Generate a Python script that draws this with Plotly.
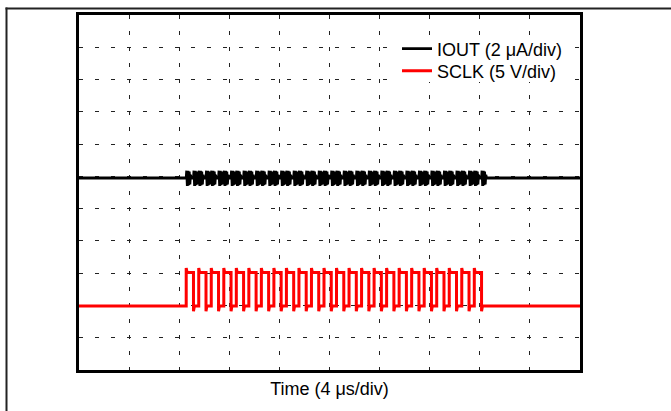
import plotly.graph_objects as go

# ---- data ----
# time axis: 10 div x 4 us
time_range_us = [0, 40]
# SCLK edges (us)
sclk_rise_us = [8.56, 9.56, 10.56, 11.56, 12.56, 13.56, 14.56, 15.56, 16.56, 17.56, 18.56, 19.56,
                20.56, 21.56, 22.56, 23.56, 24.56, 25.56, 26.56, 27.56, 28.56, 29.56, 30.56, 31.56]
sclk_fall_us = [9.14, 10.14, 11.14, 12.14, 13.14, 14.14, 15.14, 16.14, 17.14, 18.14, 19.14, 20.14,
                21.14, 22.14, 23.14, 24.14, 25.14, 26.14, 27.14, 28.14, 29.14, 30.14, 31.14, 32.14]
sclk_low_v = 0.0
sclk_high_v = 5.2
sclk_overshoot_v = 5.9
sclk_undershoot_v = -0.8
# IOUT glitch at each clock edge (offset in us, value in uA)
glitch_dt_us = [0.0, 0.04, 0.09, 0.14, 0.19, 0.24, 0.29, 0.34, 0.40]
glitch_ua = [0.0, 0.45, -0.5, 0.45, -0.45, 0.4, -0.4, 0.2, 0.0]
iout_base_ua = 0.0

# channel scale/offset (div)
IOUT_PER_DIV = 2.0
SCLK_PER_DIV = 5.0
IOUT_OFFSET_DIV = 5.95
SCLK_OFFSET_DIV = 1.98

# ---- build traces ----
sx, sy = [time_range_us[0]], [sclk_low_v]
for r, f in zip(sclk_rise_us, sclk_fall_us):
    sx += [r, r, r + 0.07, f, f, f + 0.07]
    sy += [sclk_low_v, sclk_overshoot_v, sclk_high_v, sclk_high_v, sclk_undershoot_v, sclk_low_v]
sx.append(time_range_us[1]); sy.append(sclk_low_v)
sclk_div = [SCLK_OFFSET_DIV + v / SCLK_PER_DIV for v in sy]

edges = sorted(sclk_rise_us + sclk_fall_us)
ix, iy = [time_range_us[0]], [iout_base_ua]
for e in edges:
    for dt, v in zip(glitch_dt_us, glitch_ua):
        ix.append(e + dt); iy.append(v)
ix.append(time_range_us[1]); iy.append(iout_base_ua)
iout_div = [IOUT_OFFSET_DIV + v / IOUT_PER_DIV for v in iy]

FONT = "Liberation Sans, Arial, sans-serif"

fig = go.Figure()
fig.add_trace(go.Scatter(x=ix, y=iout_div, mode="lines", name="IOUT (2 \u03bcA/div)",
                         line=dict(color="black", width=2.8), legend="legend"))
fig.add_trace(go.Scatter(x=sx, y=sclk_div, mode="lines", name="SCLK (5 V/div)",
                         line=dict(color="#ff0000", width=3), legend="legend2"))

W, H = 671, 411
L, R, T, B = 79, 580, 15, 370
px = lambda x: (x - L) / (R - L)
py = lambda y: (B - y) / (B - T)

leg_common = dict(xanchor="left", yanchor="middle", bgcolor="rgba(0,0,0,0)", borderwidth=0,
                  font=dict(size=18, family=FONT), itemwidth=30)
fig.update_layout(
    width=W, height=H,
    margin=dict(l=L, r=W - R, t=T, b=H - B),
    paper_bgcolor="white", plot_bgcolor="white",
    font=dict(family=FONT, size=18, color="black"),
    showlegend=True,
    legend=dict(x=px(397), y=py(49), **leg_common),
    legend2=dict(x=px(397), y=py(71), **leg_common),
    xaxis=dict(range=time_range_us, dtick=4, showticklabels=False, ticks="",
               showgrid=True, gridcolor="#222222", gridwidth=1, griddash="4px,12px",
               zeroline=False, showline=True, linecolor="black", linewidth=3, mirror=True,
               title=dict(text="Time (4 \u03bcs/div)", font=dict(size=18, family=FONT), standoff=11)),
    yaxis=dict(range=[0, 11], dtick=1, showticklabels=False, ticks="",
               showgrid=True, gridcolor="#222222", gridwidth=1, griddash="4px,12px",
               zeroline=False, showline=True, linecolor="black", linewidth=3, mirror=True),
)

# white backing behind the legend (hides gridlines there)
fig.add_shape(type="rect", xref="paper", yref="paper", x0=px(390), x1=px(574), y0=py(37), y1=py(82),
              fillcolor="white", line=dict(width=0), layer="above")

# page frame lines (top and left)
fig.add_shape(type="line", xref="paper", yref="paper", x0=px(5.5), x1=1.2, y0=py(8.5), y1=py(8.5),
              line=dict(color="#222222", width=2), layer="above")
fig.add_shape(type="line", xref="paper", yref="paper", x0=px(6.5), x1=px(6.5), y0=py(7.5), y1=-0.2,
              line=dict(color="#222222", width=2), layer="above")

fig.write_html("out.html", config={"displayModeBar": False},
               post_script="document.body.style.margin='0'; window.scrollTo(0,0);")
